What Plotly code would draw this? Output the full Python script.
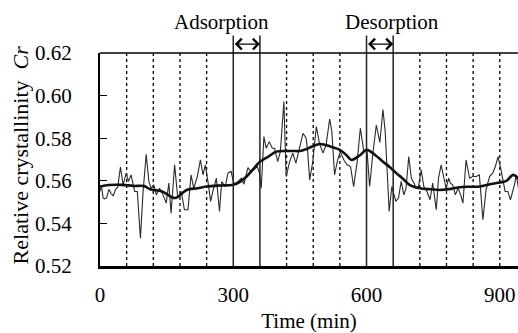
import plotly.graph_objects as go

# Raw measurements (time in min, relative crystallinity Cr)
raw_t = [0, 3, 7, 10, 15, 20, 25, 30, 35, 40, 46, 52, 59, 64, 70, 78, 84, 91, 97, 104,
         110, 115, 121, 127, 134, 142, 149, 155, 160, 168, 175, 183, 190, 198, 205, 211,
         219, 226, 232, 237, 243, 249, 254, 262, 269, 274, 282, 288, 295, 301, 307, 313,
         318, 324, 333, 340, 348, 354, 359, 363, 369, 374, 381, 388, 393, 400, 406, 414,
         419, 427, 434, 441, 449, 457, 464, 467, 472, 479, 487, 494, 502, 509, 517, 522,
         528, 535, 541, 549, 556, 564, 571, 579, 586, 594, 601, 607, 614, 622, 630, 637,
         642, 646, 651, 657, 662, 666, 672, 678, 684, 689, 695, 701, 707, 711, 717, 723,
         729, 736, 743, 749, 757, 762, 768, 774, 779, 785, 789, 794, 800, 806, 812, 817,
         824, 832, 839, 847, 854, 862, 869, 877, 884, 890, 896, 902, 907, 912, 918, 924,
         929, 933, 937, 942]
raw_cr = [0.5550, 0.5580, 0.5520, 0.5515, 0.5520, 0.5560, 0.5540, 0.5530, 0.5560, 0.5570,
          0.5665, 0.5581, 0.5636, 0.5597, 0.5628, 0.5550, 0.5550, 0.5331, 0.5550, 0.5725,
          0.5597, 0.5565, 0.5581, 0.5534, 0.5565, 0.5534, 0.5495, 0.5589, 0.5448, 0.5675,
          0.5519, 0.5550, 0.5464, 0.5464, 0.5628, 0.5565, 0.5620, 0.5698, 0.5628, 0.5675,
          0.5597, 0.5503, 0.5550, 0.5612, 0.5456, 0.5597, 0.5573, 0.5636, 0.5644, 0.5589,
          0.5589, 0.5604, 0.5612, 0.5584, 0.5662, 0.5640, 0.5656, 0.5667, 0.5636, 0.5565,
          0.5808, 0.5753, 0.5784, 0.5753, 0.5753, 0.5690, 0.5737, 0.5972, 0.5620, 0.5690,
          0.5730, 0.5683, 0.5753, 0.5823, 0.5800, 0.5750, 0.5604, 0.5690, 0.5855, 0.5776,
          0.5730, 0.5769, 0.5890, 0.5831, 0.5628, 0.5698, 0.5737, 0.5698, 0.5675, 0.5667,
          0.5573, 0.5690, 0.5847, 0.5737, 0.5745, 0.5573, 0.5722, 0.5862, 0.5780, 0.5935,
          0.5831, 0.5659, 0.5456, 0.5573, 0.5534, 0.5503, 0.5519, 0.5597, 0.5534, 0.5565,
          0.5714, 0.5612, 0.5589, 0.5565, 0.5573, 0.5651, 0.5573, 0.5550, 0.5511, 0.5589,
          0.5464, 0.5612, 0.5675, 0.5612, 0.5565, 0.5612, 0.5589, 0.5581, 0.5534, 0.5565,
          0.5534, 0.5495, 0.5698, 0.5612, 0.5620, 0.5620, 0.5628, 0.5417, 0.5558, 0.5620,
          0.5636, 0.5667, 0.5714, 0.5659, 0.5597, 0.5550, 0.5550, 0.5511, 0.5550, 0.5581,
          0.5628, 0.5565]

# Smoothed curve
smooth_t = [0, 20, 50, 75, 100, 113, 140, 169, 195, 220, 240, 270, 300, 315, 330, 345, 360,
            380, 397, 420, 435, 450, 469, 495, 520, 540, 555, 566, 585, 600, 620, 637, 652,
            667, 682, 697, 720, 745, 765, 790, 810, 835, 855, 880, 900, 915, 930, 942]
smooth_cr = [0.5573, 0.5580, 0.5581, 0.5576, 0.5575, 0.5560, 0.5550, 0.5519, 0.5557, 0.5565,
             0.5573, 0.5578, 0.5581, 0.5595, 0.5620, 0.5655, 0.5690, 0.5715, 0.5737, 0.5740,
             0.5740, 0.5740, 0.5753, 0.5773, 0.5760, 0.5745, 0.5720, 0.5698, 0.5720, 0.5745,
             0.5720, 0.5690, 0.5665, 0.5636, 0.5610, 0.5581, 0.5565, 0.5560, 0.5557, 0.5562,
             0.5570, 0.5572, 0.5573, 0.5585, 0.5592, 0.5600, 0.5628, 0.5610]

dotted_times = [60, 120, 180, 240, 420, 480, 540, 720, 780, 840, 900]
solid_times = [300, 360, 600, 660]
phase_labels = ["Adsorption", "Desorption"]
phase_starts = [300, 600]
phase_ends = [360, 660]
label_times = [274, 657]
x_ticks = [0, 300, 600, 900]
y_ticks = [0.52, 0.54, 0.56, 0.58, 0.60, 0.62]

FONT = "Liberation Serif, Times New Roman, serif"
fig = go.Figure()
fig.add_trace(go.Scatter(x=raw_t, y=raw_cr, mode="lines",
                         line=dict(color="#2a2a2a", width=1.1), showlegend=False))
fig.add_trace(go.Scatter(x=smooth_t, y=smooth_cr, mode="lines",
                         line=dict(color="#111111", width=2.6, shape="spline"), showlegend=False))

shapes = []
for t in dotted_times:
    shapes.append(dict(type="line", xref="x", yref="paper", x0=t, x1=t, y0=0, y1=1,
                       line=dict(color="black", width=1.3, dash="dot"), layer="below"))
for t in solid_times:
    shapes.append(dict(type="line", xref="x", yref="paper", x0=t, x1=t, y0=0, y1=1.082,
                       line=dict(color="#222", width=1.5)))
shapes.append(dict(type="line", xref="paper", yref="paper", x0=0, x1=1, y0=1, y1=1,
                   line=dict(color="black", width=1.5)))
annotations = []
for label, a, b, lt in zip(phase_labels, phase_starts, phase_ends, label_times):
    annotations.append(dict(x=b, y=1.042, ax=a, ay=1.042, xref="x", yref="y domain",
                            axref="x", ayref="y domain", text="", showarrow=True,
                            arrowhead=4, startarrowhead=4, arrowside="end+start",
                            arrowsize=1.6, startarrowsize=1.6, arrowwidth=1.3, arrowcolor="black"))
    annotations.append(dict(x=lt, y=1.146, xref="x", yref="paper",
                            xanchor="center", yanchor="middle",
                            text=label, showarrow=False,
                            font=dict(family=FONT, size=21, color="black")))
annotations.append(dict(x=-0.191, y=0.52, xref="paper", yref="paper", textangle=-90,
                        xanchor="center", yanchor="middle",
                        text="Relative crystallinity\u00a0\u00a0<i>Cr</i>", showarrow=False,
                        font=dict(family=FONT, size=22, color="black")))

fig.update_layout(
    width=518, height=333,
    margin=dict(l=100, r=0, t=53, b=67),
    paper_bgcolor="white", plot_bgcolor="white",
    font=dict(family=FONT, size=21, color="black"),
    shapes=shapes, annotations=annotations,
    xaxis=dict(range=[0, 941], tickvals=x_ticks, ticktext=[str(v) for v in x_ticks],
               showgrid=False, zeroline=False, showline=True, linecolor="black", linewidth=2.5,
               ticks="", ticklabelstandoff=8, tickfont=dict(family=FONT, size=21),
               title=dict(text="Time (min)", standoff=11, font=dict(family=FONT, size=21))),
    yaxis=dict(range=[0.52, 0.62], tickvals=y_ticks, ticktext=[f"{v:.2f}" for v in y_ticks],
               showgrid=False, zeroline=False, showline=True, linecolor="black", linewidth=2,
               ticks="inside", ticklen=7, tickwidth=1.3, tickcolor="black",
               ticklabelstandoff=22, tickfont=dict(family=FONT, size=21)),
)
fig.write_html("out.html")
